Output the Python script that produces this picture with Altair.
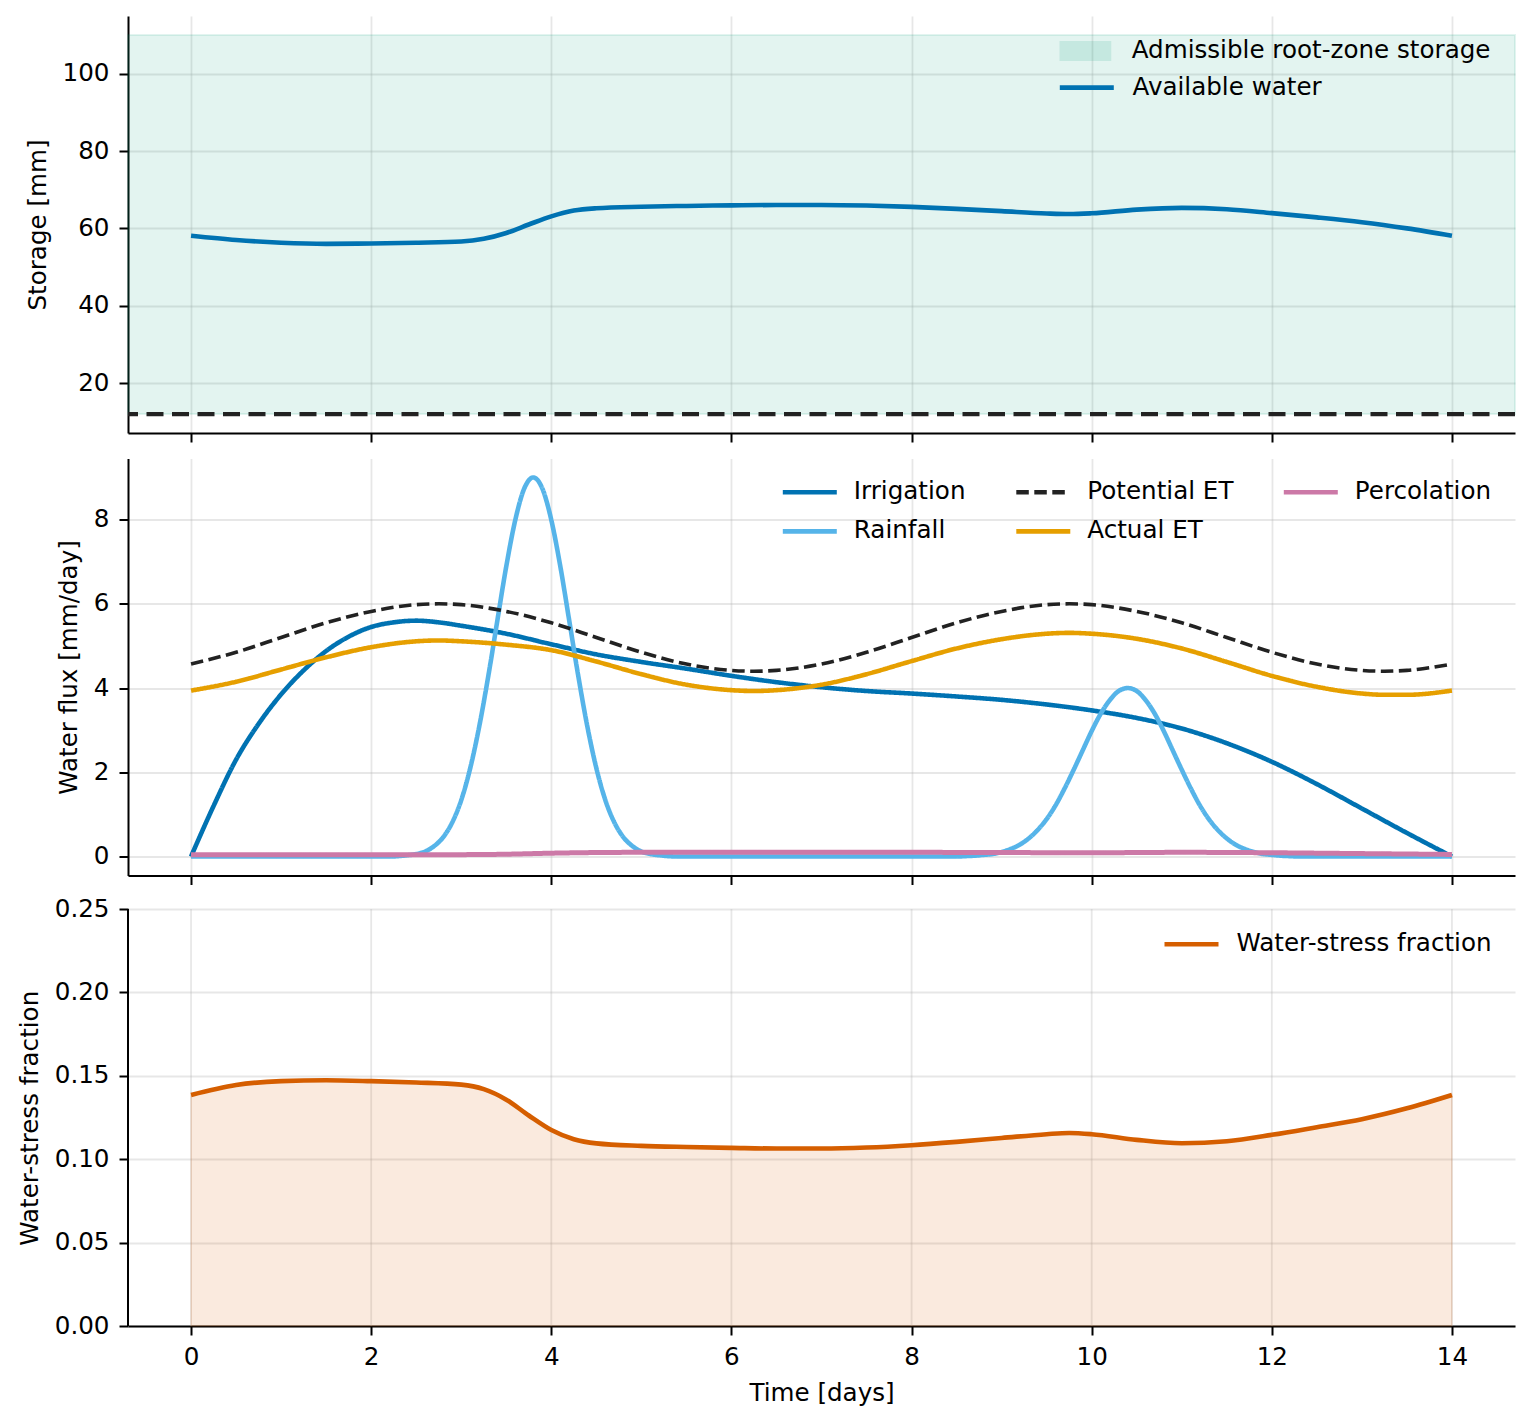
import altair as alt
import pandas as pd

FONT = "DejaVu Sans"
FS = 24.6
W = 1387
H = 417

# ---------------- data ----------------
t_storage = [0, 0.5, 1, 1.5, 2, 2.5, 3, 3.25, 3.5, 3.75, 4, 4.25, 4.5, 5, 5.5, 6, 6.5,
             7, 7.5, 8, 8.5, 9, 9.5, 9.75, 10, 10.5, 11, 11.5, 12, 12.5, 13, 13.5, 14]
storage_mm = [58.1, 57.0, 56.3, 56.0, 56.1, 56.3, 56.6, 57.3, 58.8, 61.0, 63.1, 64.6, 65.2,
              65.6, 65.8, 65.95, 66.05, 66.05, 65.9, 65.55, 65.05, 64.45, 63.85, 63.7,
              63.9, 64.85, 65.3, 64.95, 63.95, 62.85, 61.6, 60.0, 58.1]
stress_frac = [0.1385, 0.1445, 0.1468, 0.1473, 0.1468, 0.1460, 0.1447, 0.1420, 0.1357,
               0.1262, 0.1175, 0.1120, 0.1095, 0.1080, 0.1073, 0.1068, 0.1064, 0.1064,
               0.1070, 0.1084, 0.1104, 0.1127, 0.1150, 0.1157, 0.1150, 0.1116, 0.1096,
               0.1108, 0.1146, 0.1192, 0.1240, 0.1305, 0.1385]

band_low = 12
band_high = 110

t_irr = [0, 0.25, 0.5, 0.75, 1, 1.25, 1.5, 1.75, 2, 2.25, 2.5, 2.75, 3, 3.5, 4, 4.5, 5,
         5.5, 6, 6.5, 7, 7.5, 8, 8.5, 9, 9.5, 10, 10.5, 11, 11.5, 12, 12.5, 13, 13.5, 14]
irrigation = [0.0, 1.2, 2.3, 3.15, 3.85, 4.42, 4.88, 5.22, 5.45, 5.56, 5.60, 5.56, 5.48,
              5.29, 5.04, 4.80, 4.62, 4.46, 4.29, 4.14, 4.02, 3.93, 3.87, 3.80, 3.72,
              3.61, 3.47, 3.29, 3.04, 2.69, 2.25, 1.72, 1.14, 0.56, 0.0]

t_et = [0, 0.5, 1, 1.5, 2, 2.5, 2.75, 3, 3.5, 4, 4.5, 5, 5.5, 6, 6.25, 6.5, 7, 7.5, 8,
        8.5, 9, 9.5, 9.75, 10, 10.5, 11, 11.5, 12, 12.5, 13, 13.25, 13.5, 14]
potential_et = [4.57, 4.85, 5.20, 5.55, 5.82, 5.98, 6.00, 5.98, 5.82, 5.55, 5.20, 4.85,
                4.57, 4.42, 4.40, 4.42, 4.57, 4.85, 5.20, 5.55, 5.82, 5.98, 6.00, 5.98,
                5.82, 5.55, 5.20, 4.85, 4.57, 4.42, 4.40, 4.42, 4.57]
actual_et = [3.94, 4.15, 4.44, 4.73, 4.97, 5.11, 5.13, 5.11, 5.03, 4.90, 4.63, 4.33,
             4.08, 3.95, 3.93, 3.95, 4.08, 4.33, 4.64, 4.94, 5.16, 5.29, 5.31, 5.29,
             5.17, 4.94, 4.62, 4.29, 4.03, 3.87, 3.84, 3.84, 3.94]

t_rain = ([0] + [round(2.2 + 0.1 * i, 1) for i in range(33)]
          + [round(8.5 + 0.1 * i, 1) for i in range(39)] + [14])
rainfall = ([0]
            + [0, 0.01, 0.03, 0.06, 0.12, 0.25, 0.46, 0.81, 1.34, 2.10, 3.09, 4.28, 5.59,
               6.89, 7.99, 8.74, 9.00, 8.74, 7.99, 6.89, 5.59, 4.28, 3.09, 2.10, 1.34,
               0.81, 0.46, 0.25, 0.12, 0.06, 0.03, 0.01, 0]
            + [0, 0.01, 0.02, 0.04, 0.06, 0.11, 0.18, 0.28, 0.43, 0.63, 0.89, 1.22, 1.62,
               2.06, 2.52, 2.98, 3.39, 3.71, 3.93, 4.00, 3.93, 3.71, 3.39, 2.98, 2.52,
               2.06, 1.62, 1.22, 0.89, 0.63, 0.43, 0.28, 0.18, 0.11, 0.06, 0.04, 0.02,
               0.01, 0]
            + [0])

t_perc = [0, 1, 2, 3, 3.5, 4, 4.5, 5, 6, 7, 8, 9, 10, 11, 12, 13, 14]
percolation = [0.04, 0.04, 0.04, 0.045, 0.055, 0.08, 0.095, 0.10, 0.10, 0.10, 0.10,
               0.095, 0.09, 0.10, 0.09, 0.07, 0.05]

x_ticks = [0, 2, 4, 6, 8, 10, 12, 14]
x_domain = [-0.7, 14.7]

LW = 4.6

# ---------------- helpers ----------------
x_scale = alt.Scale(domain=x_domain, nice=False, zero=False)


def xenc(last=False):
    if last:
        ax = alt.Axis(values=x_ticks, title="Time [days]", grid=False, titlePadding=13)
    else:
        ax = alt.Axis(values=x_ticks, labels=False, title=None, grid=True)
    return alt.X("t:Q", scale=x_scale, axis=ax)


# ---------------- panel 1: storage ----------------
y1_scale = alt.Scale(domain=[7.1, 114.9], nice=False, zero=False)
y1_axis = alt.Axis(values=[20, 40, 60, 80, 100], title="Storage [mm]", grid=True)

band_df = pd.DataFrame({"lo": [band_low], "hi": [band_high],
                        "label": ["Admissible root-zone storage"]})
floor_df = pd.DataFrame({"v": [band_low]})
stor_df = pd.DataFrame({"t": t_storage, "v": storage_mm, "label": "Available water"})

band = alt.Chart(band_df).mark_rect(
    fillOpacity=0.11, stroke="#009E73", strokeOpacity=0.11, strokeWidth=2
).encode(
    y=alt.Y("lo:Q", scale=y1_scale, axis=y1_axis),
    y2="hi:Q",
    fill=alt.Fill("label:N",
                  scale=alt.Scale(domain=["Admissible root-zone storage"], range=["#009E73"]),
                  legend=alt.Legend(title=None, orient="none", legendX=931.3, legendY=25,
                                    symbolType="M-1,-0.385H1V0.385H-1Z", symbolSize=2704,
                                    symbolOpacity=0.13, symbolStrokeWidth=0,
                                    clipHeight=20, labelOffset=20.4, padding=0)),
)

floor = alt.Chart(floor_df).mark_rule(
    color="#222222", strokeWidth=4.2, strokeDash=[17, 8.5]
).encode(y=alt.Y("v:Q", scale=y1_scale, axis=y1_axis))

stor_line = alt.Chart(stor_df).mark_line(strokeWidth=LW, interpolate="monotone").encode(
    x=xenc(),
    y=alt.Y("v:Q", scale=y1_scale, axis=y1_axis),
    stroke=alt.Stroke("label:N",
                      scale=alt.Scale(domain=["Available water"], range=["#0072B2"]),
                      legend=alt.Legend(title=None, orient="none", legendX=929.3, legendY=61.6,
                                        symbolType="stroke", symbolSize=2916,
                                        symbolStrokeWidth=LW, clipHeight=20,
                                        labelOffset=16.2, padding=0)),
)

p1 = alt.layer(band, floor, stor_line).properties(width=W, height=H)

# ---------------- panel 2: fluxes ----------------
y2_scale = alt.Scale(domain=[-0.45, 9.45], nice=False, zero=False)
y2_axis = alt.Axis(values=[0, 2, 4, 6, 8], title="Water flux [mm/day]", grid=True)

series_t = {
    "Irrigation": (t_irr, irrigation),
    "Rainfall": (t_rain, rainfall),
    "Potential ET": (t_et, potential_et),
    "Actual ET": (t_et, actual_et),
    "Percolation": (t_perc, percolation),
}
frames = []
for name, (tt, vv) in series_t.items():
    frames.append(pd.DataFrame({"t": tt, "v": vv, "series": name}))
flux_df = pd.concat(frames, ignore_index=True)

legend_order = ["Irrigation", "Rainfall", "Potential ET", "Actual ET", "Percolation"]
series_color = {"Irrigation": "#0072B2", "Rainfall": "#56B4E9", "Potential ET": "#222222",
                "Actual ET": "#E69F00", "Percolation": "#CC79A7"}
series_dash = {"Irrigation": [1, 0], "Rainfall": [1, 0], "Potential ET": [12.5, 5.5],
               "Actual ET": [1, 0], "Percolation": [1, 0]}
series_width = {"Irrigation": LW, "Rainfall": LW, "Potential ET": 3.6,
                "Actual ET": LW, "Percolation": 5.0}
draw_order = ["Irrigation", "Rainfall", "Potential ET", "Actual ET", "Percolation"]

color_scale = alt.Scale(domain=legend_order, range=[series_color[s] for s in legend_order])
dash_scale = alt.Scale(domain=legend_order, range=[series_dash[s] for s in legend_order])
leg2 = alt.Legend(title=None, orient="none", legendX=652.3, legendY=23.6, columns=3,
                  symbolType="stroke", symbolSize=2916, symbolStrokeWidth=LW,
                  clipHeight=20, rowPadding=14.3, columnPadding=47.5, labelOffset=14.5,
                  padding=0)

flux_layers = []
for s in draw_order:
    flux_layers.append(
        alt.Chart(flux_df).transform_filter(alt.datum.series == s)
        .mark_line(strokeWidth=series_width[s], interpolate="monotone")
        .encode(
            x=xenc(),
            y=alt.Y("v:Q", scale=y2_scale, axis=y2_axis),
            color=alt.Color("series:N", scale=color_scale, legend=leg2),
            strokeDash=alt.StrokeDash("series:N", scale=dash_scale, legend=leg2),
        )
    )
p2 = alt.layer(*flux_layers).properties(width=W, height=H)

# ---------------- panel 3: water stress ----------------
H3 = 425
y3_top = 0.25 + (H3 - H) / 1668.0
y3_scale = alt.Scale(domain=[0, y3_top], nice=False, zero=False)
y3_axis = alt.Axis(values=[0, 0.05, 0.10, 0.15, 0.20, 0.25], format=".2f",
                   title="Water-stress fraction", grid=True, domain=False, titleY=216.8)

stress_df = pd.DataFrame({"t": t_storage, "v": stress_frac, "label": "Water-stress fraction"})
vgrid_df = pd.DataFrame({"t": x_ticks, "lo": 0.0, "hi": 0.25})
spine_df = pd.DataFrame({"t": [x_domain[0]], "lo": [0.0], "hi": [0.25]})

vgrid = alt.Chart(vgrid_df).mark_rule(color="#b0b0b0", opacity=0.3, strokeWidth=1.8).encode(
    x=xenc(True), y=alt.Y("lo:Q", scale=y3_scale, axis=y3_axis), y2="hi:Q")
spine = alt.Chart(spine_df).mark_rule(color="black", strokeWidth=2).encode(
    x=xenc(True), y=alt.Y("lo:Q", scale=y3_scale, axis=y3_axis), y2="hi:Q")

area = alt.Chart(stress_df).mark_area(
    color="#D55E00", fillOpacity=0.13, strokeOpacity=0.13, stroke="#D55E00",
    strokeWidth=1.5, interpolate="monotone"
).encode(x=xenc(True), y=alt.Y("v:Q", scale=y3_scale, axis=y3_axis))

stress_line = alt.Chart(stress_df).mark_line(strokeWidth=LW, interpolate="monotone").encode(
    x=xenc(True),
    y=alt.Y("v:Q", scale=y3_scale, axis=y3_axis),
    stroke=alt.Stroke("label:N",
                      scale=alt.Scale(domain=["Water-stress fraction"], range=["#D55E00"]),
                      legend=alt.Legend(title=None, orient="none", legendX=1034, legendY=33.3,
                                        symbolType="stroke", symbolSize=2916,
                                        symbolStrokeWidth=LW, clipHeight=20,
                                        labelOffset=15.5, padding=0)),
)

p3 = alt.layer(vgrid, area, spine, stress_line).properties(width=W, height=H3)

chart = alt.vconcat(p1, p2, p3, spacing=25.5, bounds="flush").resolve_scale(
    color="independent", stroke="independent", fill="independent",
    strokeDash="independent", x="shared", y="independent"
).resolve_legend(
    color="independent", stroke="independent", fill="independent",
    strokeDash="independent"
).properties(
    padding={"left": 9, "top": 8, "right": 4, "bottom": 2}
).configure_view(stroke=None).configure_axis(
    labelFont=FONT, labelFontSize=FS, labelColor="black",
    titleFont=FONT, titleFontSize=FS, titleFontWeight="normal", titleColor="black",
    domainColor="black", domainWidth=2, tickColor="black", tickWidth=2, tickSize=9,
    labelPadding=10, titlePadding=11.5, gridColor="#b0b0b0", gridOpacity=0.3,
    gridWidth=1.8, labelFlush=False, labelOverlap=False,
).configure_legend(
    labelFont=FONT, labelFontSize=FS, labelColor="black", labelLimit=800,
)

chart.save("out.html", embed_options={"renderer": "svg", "actions": False})
